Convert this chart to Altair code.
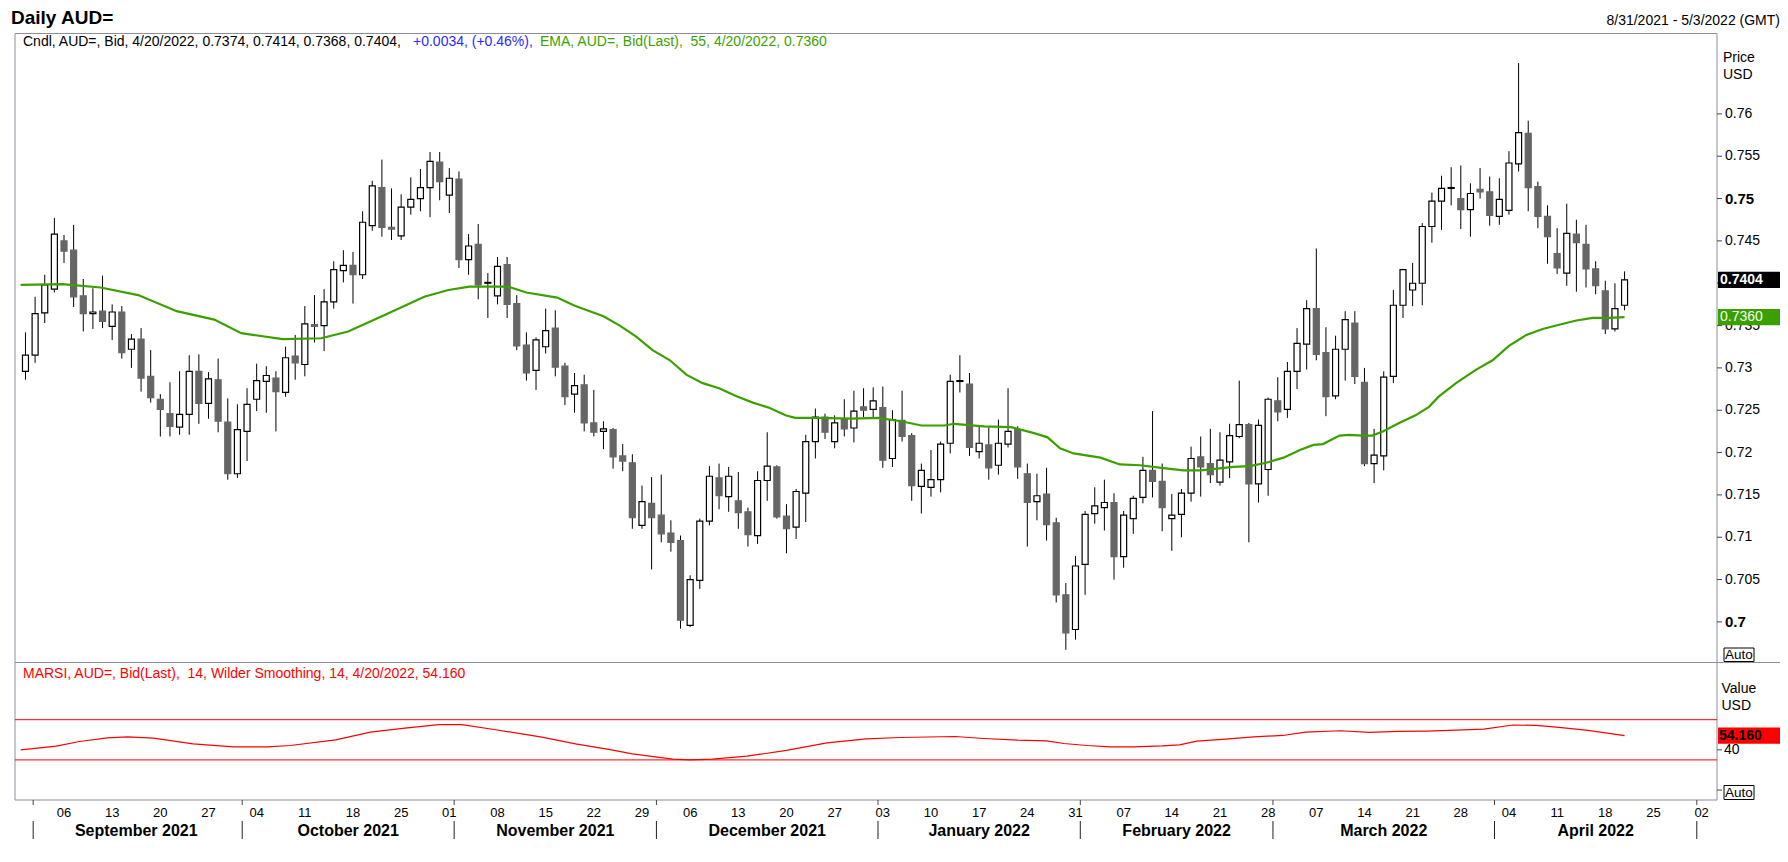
import altair as alt
import pandas as pd

# ---------------- data ----------------
open_ = [0.7296,0.7315,0.7365,0.7393,0.7450,0.7439,0.7385,0.7364,0.7367,0.7349,
0.7366,0.7322,0.7334,0.7290,0.7263,0.7246,0.7230,0.7245,0.7296,0.7258,
0.7286,0.7236,0.7175,0.7225,0.7263,0.7284,0.7288,0.7271,0.7314,0.7304,
0.7351,0.7350,0.7378,0.7415,0.7421,0.7410,0.7468,0.7513,0.7466,0.7456,
0.7490,0.7500,0.7513,0.7543,0.7504,0.7523,0.7428,0.7446,0.7400,0.7385,
0.7422,0.7376,0.7327,0.7297,0.7325,0.7347,0.7302,0.7269,0.7280,0.7235,
0.7225,0.7227,0.7196,0.7188,0.7114,0.7140,0.7126,0.7105,0.7096,0.6996,
0.7049,0.7119,0.7170,0.7148,0.7143,0.7130,0.7102,0.7167,0.7183,0.7125,
0.7112,0.7152,0.7213,0.7242,0.7213,0.7240,0.7229,0.7254,0.7251,0.7253,
0.7193,0.7238,0.7220,0.7160,0.7159,0.7168,0.7211,0.7284,0.7281,0.7201,
0.7209,0.7185,0.7210,0.7227,0.7175,0.7142,0.7151,0.7117,0.7032,0.6991,
0.7068,0.7128,0.7135,0.7141,0.7077,0.7122,0.7147,0.7179,0.7166,0.7122,
0.7127,0.7152,0.7195,0.7187,0.7165,0.7189,0.7219,0.7233,0.7163,0.7180,
0.7261,0.7251,0.7296,0.7328,0.7370,0.7318,0.7267,0.7322,0.7353,0.7283,
0.7187,0.7196,0.7290,0.7374,0.7392,0.7400,0.7467,0.7497,0.7512,0.7500,
0.7487,0.7511,0.7508,0.7479,0.7486,0.7541,0.7577,0.7514,0.7479,0.7435,
0.7412,0.7458,0.7446,0.7417,0.7391,0.7346,0.7374]

high = [0.7342,0.7384,0.7410,0.7477,0.7457,0.7469,0.7405,0.7394,0.7409,0.7375,
0.7373,0.7340,0.7347,0.7321,0.7269,0.7283,0.7296,0.7315,0.7316,0.7295,
0.7311,0.7264,0.7257,0.7276,0.7305,0.7302,0.7296,0.7325,0.7339,0.7373,
0.7386,0.7393,0.7426,0.7439,0.7437,0.7485,0.7521,0.7546,0.7512,0.7505,
0.7525,0.7535,0.7555,0.7555,0.7536,0.7532,0.7458,0.7470,0.7412,0.7431,
0.7431,0.7386,0.7342,0.7336,0.7370,0.7368,0.7306,0.7294,0.7292,0.7274,
0.7237,0.7229,0.7210,0.7198,0.7161,0.7171,0.7174,0.7120,0.7102,0.7055,
0.7122,0.7184,0.7187,0.7183,0.7177,0.7135,0.7178,0.7224,0.7185,0.7139,
0.7157,0.7221,0.7252,0.7246,0.7244,0.7263,0.7273,0.7276,0.7277,0.7278,
0.7250,0.7273,0.7223,0.7187,0.7203,0.7213,0.7292,0.7315,0.7294,0.7231,
0.7230,0.7239,0.7276,0.7231,0.7187,0.7175,0.7182,0.7123,0.7046,0.7078,
0.7131,0.7159,0.7168,0.7152,0.7131,0.7149,0.7195,0.7249,0.7187,0.7151,
0.7157,0.7207,0.7219,0.7228,0.7224,0.7234,0.7285,0.7235,0.7239,0.7265,
0.7289,0.7307,0.7347,0.7380,0.7441,0.7348,0.7338,0.7367,0.7367,0.7300,
0.7228,0.7296,0.7392,0.7417,0.7424,0.7471,0.7507,0.7527,0.7537,0.7539,
0.7518,0.7536,0.7526,0.7524,0.7556,0.7660,0.7592,0.7520,0.7492,0.7465,
0.7494,0.7475,0.7469,0.7426,0.7403,0.7400,0.7414]

low = [0.7286,0.7306,0.7353,0.7389,0.7424,0.7372,0.7343,0.7346,0.7347,0.7333,
0.7311,0.7300,0.7272,0.7259,0.7219,0.7219,0.7221,0.7221,0.7234,0.7240,
0.7224,0.7168,0.7170,0.7190,0.7249,0.7247,0.7225,0.7266,0.7286,0.7290,
0.7330,0.7320,0.7370,0.7401,0.7376,0.7405,0.7462,0.7455,0.7451,0.7451,
0.7481,0.7485,0.7478,0.7498,0.7483,0.7418,0.7410,0.7381,0.7359,0.7375,
0.7359,0.7321,0.7285,0.7274,0.7317,0.7290,0.7256,0.7247,0.7225,0.7219,
0.7204,0.7181,0.7178,0.7110,0.7110,0.7062,0.7094,0.7083,0.6992,0.6994,
0.7039,0.7114,0.7133,0.7130,0.7110,0.7089,0.7092,0.7143,0.7122,0.7081,
0.7098,0.7118,0.7193,0.7216,0.7205,0.7219,0.7212,0.7242,0.7242,0.7182,
0.7183,0.7213,0.7143,0.7128,0.7148,0.7153,0.7199,0.7271,0.7196,0.7193,
0.7168,0.7174,0.7206,0.7169,0.7089,0.7120,0.7096,0.7023,0.6967,0.6979,
0.7032,0.7116,0.7108,0.7050,0.7064,0.7104,0.7140,0.7147,0.7107,0.7084,
0.7100,0.7142,0.7148,0.7164,0.7161,0.7170,0.7217,0.7094,0.7141,0.7149,
0.7237,0.7241,0.7275,0.7298,0.7309,0.7243,0.7263,0.7285,0.7281,0.7184,
0.7164,0.7179,0.7282,0.7359,0.7373,0.7374,0.7448,0.7463,0.7492,0.7464,
0.7455,0.7500,0.7468,0.7469,0.7481,0.7532,0.7485,0.7465,0.7423,0.7411,
0.7397,0.7390,0.7395,0.7387,0.7340,0.7343,0.7368]

close = [0.7315,0.7364,0.7398,0.7458,0.7438,0.7384,0.7364,0.7366,0.7355,0.7366,
0.7318,0.7334,0.7288,0.7265,0.7251,0.7231,0.7245,0.7296,0.7258,0.7287,
0.7237,0.7175,0.7227,0.7257,0.7285,0.7291,0.7272,0.7312,0.7306,0.7352,
0.7349,0.7378,0.7416,0.7421,0.7410,0.7472,0.7515,0.7466,0.7464,0.7490,
0.7499,0.7513,0.7544,0.7520,0.7524,0.7428,0.7444,0.7398,0.7401,0.7420,
0.7375,0.7326,0.7294,0.7333,0.7344,0.7301,0.7266,0.7279,0.7235,0.7224,
0.7228,0.7195,0.7190,0.7123,0.7142,0.7123,0.7104,0.7094,0.7002,0.7050,
0.7119,0.7172,0.7149,0.7172,0.7129,0.7103,0.7167,0.7184,0.7124,0.7110,
0.7154,0.7213,0.7242,0.7224,0.7235,0.7228,0.7249,0.7250,0.7261,0.7191,
0.7239,0.7219,0.7161,0.7179,0.7168,0.7210,0.7284,0.7285,0.7206,0.7211,
0.7182,0.7211,0.7225,0.7183,0.7141,0.7149,0.7115,0.7032,0.6987,0.7066,
0.7127,0.7137,0.7141,0.7077,0.7126,0.7146,0.7179,0.7166,0.7135,0.7126,
0.7152,0.7193,0.7183,0.7174,0.7191,0.7220,0.7233,0.7163,0.7232,0.7263,
0.7248,0.7296,0.7329,0.7370,0.7316,0.7266,0.7322,0.7357,0.7290,0.7187,
0.7197,0.7289,0.7374,0.7416,0.7400,0.7467,0.7497,0.7512,0.7513,0.7487,
0.7506,0.7508,0.7480,0.7499,0.7542,0.7578,0.7513,0.7479,0.7455,0.7418,
0.7459,0.7448,0.7417,0.7397,0.7346,0.7370,0.7404]

ema_i = [-0.5, 3.8, 7.8, 11.7, 15.7, 19.6, 22.4, 26.7, 30.7, 33.5, 37.4, 41.4, 43.9, 46.1, 50.1, 52.0,
         55.2, 56.9, 58.3, 60.0, 61.7, 63.4, 65.1, 66.9, 68.6, 70.3, 72.0, 73.7, 75.5, 77.2, 78.9, 79.9,
         82.3, 85.8, 88.5, 90.9, 93.0, 95.4, 96.4, 99.5, 102.3, 104.7, 106.1, 107.4, 108.8, 111.6, 113.6,
         115.7, 117.9, 120.2, 122.0, 123.7, 125.4, 127.1, 128.8, 130.6, 132.3, 133.7, 134.7, 136.4, 137.4,
         138.8, 139.8, 140.9, 142.6, 144.3, 145.7, 146.7, 148.5, 150.6, 152.3, 154.0, 155.8, 157.5, 159.2,
         161.0, 162.7, 164.4, 166.0]
ema_v = [0.7398, 0.7399, 0.7395, 0.7386, 0.7367, 0.7357, 0.7341, 0.7334, 0.7335, 0.7343, 0.7363, 0.7384,
         0.7392, 0.7396, 0.7396, 0.7389, 0.7383, 0.7374, 0.7368, 0.7361, 0.7350, 0.7337, 0.7321, 0.7309,
         0.7292, 0.7282, 0.7276, 0.7267, 0.7259, 0.7253, 0.7244, 0.7241, 0.7241, 0.7240, 0.7241, 0.7237,
         0.7232, 0.7232, 0.7234, 0.7231, 0.7230, 0.7223, 0.7218, 0.7205, 0.7199, 0.7194, 0.7186, 0.7185,
         0.7182, 0.7179, 0.7179, 0.7181, 0.7183, 0.7184, 0.7188, 0.7194, 0.7203, 0.7209, 0.7210, 0.7220,
         0.7221, 0.7220, 0.7220, 0.7225, 0.7235, 0.7244, 0.7254, 0.7266, 0.7282, 0.7298, 0.7309, 0.7326,
         0.7339, 0.7346, 0.7351, 0.7356, 0.7359, 0.7359, 0.7360]

rsi_i = [-0.5, 3.2, 5.6, 8.5, 10.6, 13.3, 17.4, 21.6, 25.1, 27.5, 32.2, 35.8, 39.4, 42.9, 45.3, 48.8,
         53.6, 57.1, 60.7, 63.0, 67.2, 69.0, 71.3, 74.9, 79.0, 83.2, 87.3, 90.8, 96.5, 99.5, 103.0, 106.0,
         107.8, 110.2, 112.6, 115.0, 118.0, 119.8, 121.6, 124.6, 127.5, 130.5, 132.9, 136.5, 139.5, 142.5,
         145.5, 148.5, 151.4, 154.4, 156.8, 159.2, 162.2, 166.0]
rsi_v = [40.0, 43.7, 48.3, 52.0, 53.0, 51.7, 46.0, 43.0, 43.0, 44.3, 50.0, 57.7, 61.7, 65.0, 65.0, 60.0,
         52.7, 46.0, 40.3, 36.0, 30.7, 30.0, 30.7, 33.7, 39.4, 47.0, 51.0, 52.3, 53.3, 51.3, 49.7, 49.0,
         46.3, 44.3, 43.0, 43.0, 44.0, 45.0, 48.7, 50.7, 53.0, 54.3, 57.7, 59.0, 57.3, 58.3, 58.7, 59.7,
         60.7, 64.7, 64.3, 62.3, 59.3, 54.16]

ema_last = 0.7360
rsi_last = 54.16
rsi_levels = [70, 30]
rsi_ticks = [0, 40]
rsi_tick_labels = ["40"]

price_ticks = [0.76, 0.755, 0.75, 0.745, 0.74, 0.735, 0.73, 0.725, 0.72, 0.715, 0.71, 0.705, 0.70]
# the 0.74 label sits fully behind the last-price box in the reference, so it is left blank
price_labels = ["0.76", "0.755", "0.75", "0.745", "", "0.735", "0.73", "0.725", "0.72", "0.715",
                "0.71", "0.705", "0.7"]

day_labels = ["06", "13", "20", "27", "04", "11", "18", "25", "01", "08", "15", "22", "29",
              "06", "13", "20", "27", "03", "10", "17", "24", "31", "07", "14", "21", "28",
              "07", "14", "21", "28", "04", "11", "18", "25", "02"]
day_pos = list(range(4, 175, 5))
month_names = ["September 2021", "October 2021", "November 2021", "December 2021",
               "January 2022", "February 2022", "March 2022", "April 2022"]
month_mid = [11.5, 33.5, 55, 77, 99, 119.5, 141, 163]
month_bounds = [0.8, 22.5, 44.5, 65.5, 88.5, 109.5, 129.5, 152.5, 173.5]

NB = "\u00a0"
title_text = "Daily AUD="
range_text = "8/31/2021 - 5/3/2022 (GMT)"
legend_black = "Cndl, AUD=, Bid, 4/20/2022, 0.7374, 0.7414, 0.7368, 0.7404,"
legend_blue = "+0.0034, (+0.46%),"
legend_green = "EMA, AUD=, Bid(Last)," + NB + NB + "55, 4/20/2022, 0.7360"
legend_rsi = "MARSI, AUD=, Bid(Last)," + NB + NB + "14, Wilder Smoothing, 14, 4/20/2022, 54.160"

# ---------------- styling / layout ----------------
FONT = "Liberation Sans"
GREY = "#666666"
GREEN = "#3c9f00"
RED = "#ff0000"
BLUE = "#2a2aff"
FRAME = "#8e8e9a"
W = 1702
H_MAIN = 629
H_ALL = 766.5

xs = alt.Scale(domain=[-0.568, 175.077], nice=False, zero=False)
ps = alt.Scale(domain=[0.695205, 0.769496], range=[H_MAIN, 0], nice=False, zero=False)
rs = alt.Scale(domain=[-9.9, 126.9], range=[H_ALL, H_MAIN], nice=False, zero=False)


def X(f):
    return alt.X(f, type="quantitative", scale=xs, axis=None)


def YP(f):
    return alt.Y(f, type="quantitative", scale=ps, axis=None)


def YR(f):
    return alt.Y(f, type="quantitative", scale=rs, axis=None)


one = pd.DataFrame({"k": [0]})


def hline(y, x0, x1, color=FRAME, w=1):
    return alt.Chart(one).mark_rule(color=color, strokeWidth=w).encode(
        x=alt.value(x0), x2=alt.value(x1), y=alt.value(y))


def vline(x, y0, y1, color=FRAME, w=1):
    return alt.Chart(one).mark_rule(color=color, strokeWidth=w).encode(
        x=alt.value(x), y=alt.value(y0), y2=alt.value(y1))


def txt(s, x, y, size=14, color="black", weight="normal", align="left", baseline="middle"):
    return alt.Chart(one).mark_text(text=s, fontSize=size, color=color, fontWeight=weight,
                                    align=align, baseline=baseline, font=FONT).encode(
        x=alt.value(x), y=alt.value(y))


def box(x0, x1, y0, y1):
    return alt.Chart(one).mark_rect(fill="white", stroke="black", strokeWidth=1).encode(
        x=alt.value(x0), x2=alt.value(x1), y=alt.value(y0), y2=alt.value(y1))


df = pd.DataFrame({"i": list(range(len(close))), "o": open_, "h": high, "l": low, "c": close})
ema_df = pd.DataFrame({"i": ema_i, "v": ema_v})
rsi_df = pd.DataFrame({"i": rsi_i, "v": rsi_v})
ptick_df = pd.DataFrame({"v": price_ticks, "t": price_labels})
day_df = pd.DataFrame({"i": day_pos, "t": day_labels})
month_df = pd.DataFrame({"i": month_mid, "t": month_names})
bound_df = pd.DataFrame({"m": month_bounds})

up = "datum.c >= datum.o"

wicks = alt.Chart(df).mark_rule(color="black", strokeWidth=1).encode(
    x=X("i"), y=YP("l"), y2="h:Q")
bodies = alt.Chart(df).mark_bar(size=6, strokeWidth=1.2).encode(
    x=X("i"), y=YP("o"), y2="c:Q",
    fill=alt.condition(up, alt.value("white"), alt.value(GREY)),
    stroke=alt.condition(up, alt.value("black"), alt.value(GREY)))
ema_line = alt.Chart(ema_df).mark_line(color=GREEN, strokeWidth=2.2).encode(x=X("i"), y=YP("v"))

rsi_lvl = alt.Chart(pd.DataFrame({"v": rsi_levels})).mark_rule(color=RED, strokeWidth=1).encode(
    y=YR("v"), x=alt.value(0), x2=alt.value(W))
rsi_line = alt.Chart(rsi_df).mark_line(color=RED, strokeWidth=1.2).encode(x=X("i"), y=YR("v"))

# price axis
p_ticks = alt.Chart(ptick_df).mark_rule(color="#444444", strokeWidth=1).encode(
    y=YP("v"), x=alt.value(W), x2=alt.value(W + 5))
bold_test = "datum.t == '0.75' || datum.t == '0.7'"
p_labels = alt.Chart(ptick_df).transform_filter("datum.t != '' && !(" + bold_test + ")").mark_text(
    align="left", baseline="middle", fontSize=14, font=FONT, color="black").encode(
    y=YP("v"), x=alt.value(W + 8), text="t:N")
p_labels_b = alt.Chart(ptick_df).transform_filter(bold_test).mark_text(
    align="left", baseline="middle", fontSize=15, font=FONT, fontWeight="bold", color="black").encode(
    y=YP("v"), x=alt.value(W + 8), text="t:N")

last_df = pd.DataFrame({"v": [close[-1]]})
ema_last_df = pd.DataFrame({"v": [ema_last]})
rsi_last_df = pd.DataFrame({"v": [rsi_last]})
half_p = 0.00095
last_box = alt.Chart(last_df).transform_calculate(lo=f"datum.v - {half_p}", hi=f"datum.v + {half_p}").mark_rect(
    color="black").encode(x=alt.value(W + 1), x2=alt.value(W + 70), y=YP("lo"), y2="hi:Q")
last_txt = alt.Chart(last_df).mark_text(align="left", baseline="middle", fontSize=14, fontWeight="bold",
                                        font=FONT, color="white").encode(
    x=alt.value(W + 3), y=YP("v"), text=alt.Text("v:Q", format=".4f"))
ema_box = alt.Chart(ema_last_df).transform_calculate(lo=f"datum.v - {half_p}", hi=f"datum.v + {half_p}").mark_rect(
    color=GREEN).encode(x=alt.value(W + 1), x2=alt.value(W + 70), y=YP("lo"), y2="hi:Q")
ema_txt = alt.Chart(ema_last_df).mark_text(align="left", baseline="middle", fontSize=14,
                                           font=FONT, color="#f4fff0").encode(
    x=alt.value(W + 3), y=YP("v"), text=alt.Text("v:Q", format=".4f"))

# rsi axis
r_ticks = alt.Chart(pd.DataFrame({"v": rsi_ticks})).mark_rule(color="#444444", strokeWidth=1).encode(
    y=YR("v"), x=alt.value(W), x2=alt.value(W + 5))
r_labels = alt.Chart(pd.DataFrame({"v": [40], "t": rsi_tick_labels})).mark_text(
    align="left", baseline="middle", fontSize=14, font=FONT, color="black").encode(
    y=YR("v"), x=alt.value(W + 7), text="t:N")
rsi_box = alt.Chart(rsi_last_df).transform_calculate(lo="datum.v - 8", hi="datum.v + 8").mark_rect(
    color=RED).encode(x=alt.value(W + 1), x2=alt.value(W + 70), y=YR("lo"), y2="hi:Q")
rsi_txt = alt.Chart(rsi_last_df).mark_text(align="left", baseline="middle", fontSize=14, fontWeight="bold",
                                           font=FONT, color="black").encode(
    x=alt.value(W + 2), y=YR("v"), text=alt.Text("v:Q", format=".3f"))

# x axis
day_txt = alt.Chart(day_df).mark_text(align="center", baseline="middle", fontSize=13, font=FONT,
                                      color="black").encode(x=X("i"), y=alt.value(779), text="t:N")
month_txt = alt.Chart(month_df).mark_text(align="center", baseline="middle", fontSize=16, font=FONT,
                                          fontWeight="bold", color="black").encode(
    x=X("i"), y=alt.value(797), text="t:N")
sep_long = alt.Chart(bound_df).mark_rule(color="#222222", strokeWidth=1).encode(
    x=X("m"), y=alt.value(787.5), y2=alt.value(805.5))
sep_short = alt.Chart(bound_df).mark_rule(color="#444444", strokeWidth=1).encode(
    x=X("m"), y=alt.value(H_ALL), y2=alt.value(H_ALL + 5))

layers = [
    hline(0, 0, W), vline(0, 0, H_ALL), vline(W, 0, H_ALL),
    hline(H_MAIN, 0, 1766), hline(H_ALL, 0, W),
    rsi_lvl, wicks, bodies, ema_line, rsi_line,
    p_ticks, p_labels, p_labels_b, r_ticks, r_labels,
    last_box, last_txt, ema_box, ema_txt, rsi_box, rsi_txt,
    box(1709, 1739, 614.5, 628), txt("Auto", 1724, 621.5, size=13.5, align="center"),
    box(1709, 1739, 752, 766), txt("Auto", 1724, 759, size=13.5, align="center"),
    txt("Price", 1708, 24.3), txt("USD", 1708, 41.9),
    txt("Value", 1706.5, 655), txt("USD", 1706.5, 672.8),
    txt(title_text, -4, -24.5, size=19, weight="bold", baseline="top"),
    txt(range_text, 1765, -9, size=14, align="right", baseline="alphabetic"),
    txt(legend_black, 8, 8.8), txt(legend_blue, 398, 8.8, color=BLUE),
    txt(legend_green, 525, 8.8, color=GREEN),
    txt(legend_rsi, 8, 640, color=RED),
    day_txt, month_txt, sep_long, sep_short,
]

chart = alt.layer(*layers).resolve_scale(y="independent").properties(
    width=W, height=H_ALL,
    padding={"left": 7, "top": 25.5, "right": 63, "bottom": 54},
    autosize=alt.AutoSizeParams(type="none"),
    background="white",
).configure_view(stroke=None)

chart.save("out.html", embed_options={"renderer": "svg", "actions": False})
